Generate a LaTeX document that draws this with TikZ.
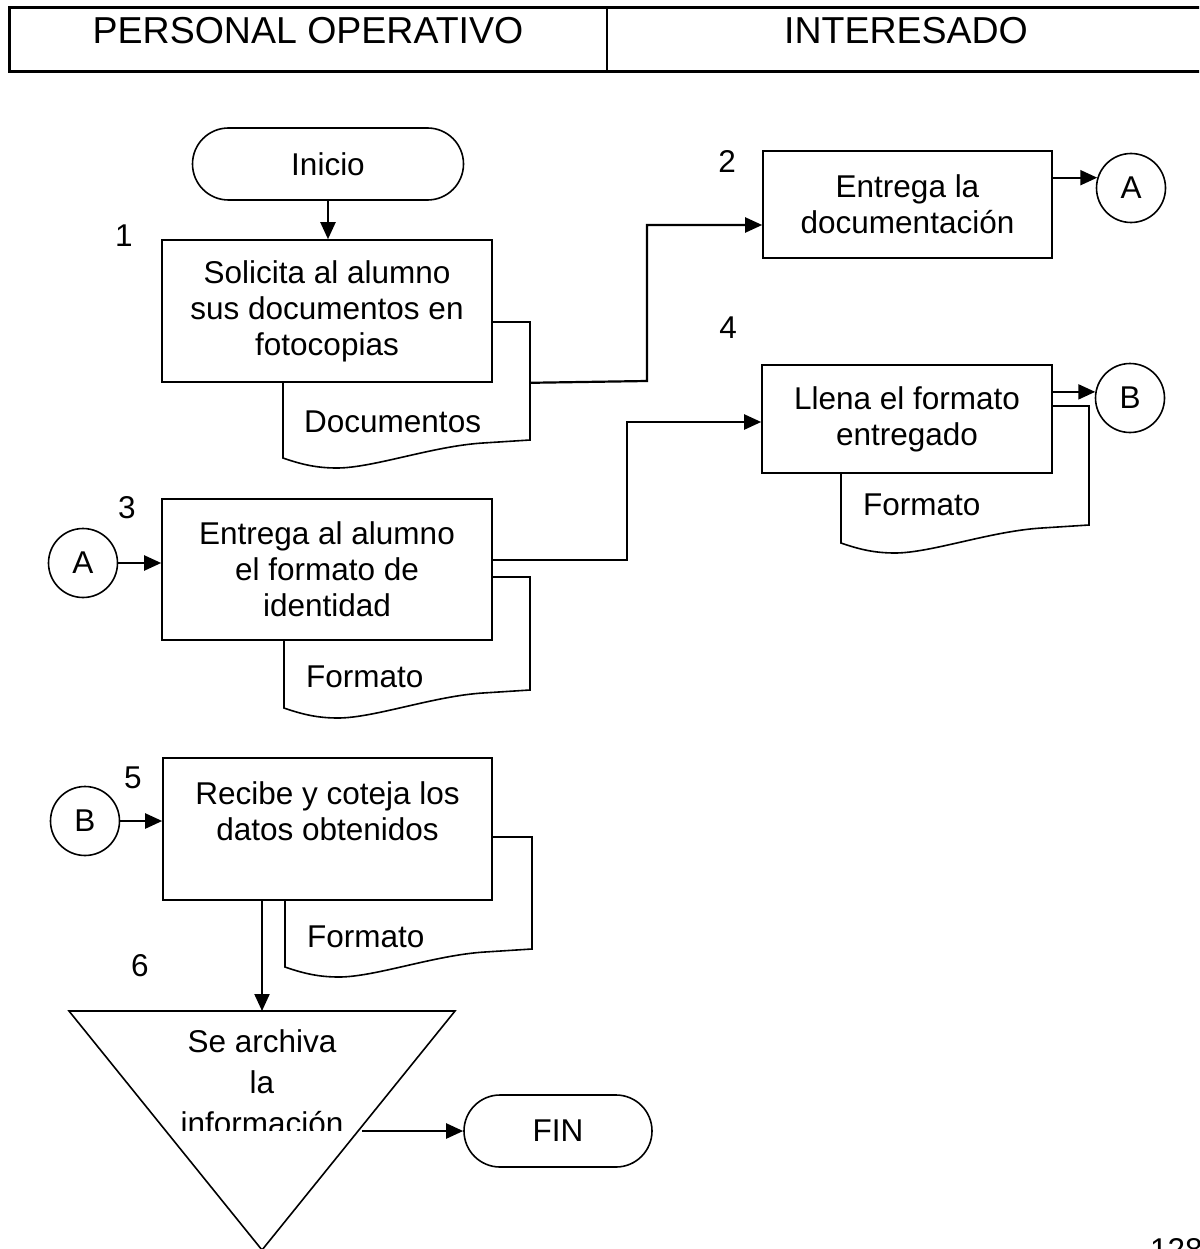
\documentclass[tikz,border=0pt]{standalone}
\usepackage{fontspec}
\setmainfont{Liberation Sans}
\usetikzlibrary{arrows.meta,shapes.misc}

% document symbol: left x, right x, top y, bottom-left y (wavy bottom edge)
\newcommand{\docpath}[4]{%
  \draw[docshape] (#1,#3) -- (#2,#3) -- (#2,#4-18) -- (#2-47,#4-15)
    .. controls (#1+150,#4-12) and (#1+90,#4+10) .. (#1+54,#4+10)
    .. controls (#1+35,#4+10) and (#1+20,#4+7) .. (#1,#4) -- cycle;}

\begin{document}
\begin{tikzpicture}[x=1pt,y=-1pt,
  every node/.style={font=\fontsize{31.5}{36}\selectfont, inner sep=0pt},
  box/.style={draw, line width=1.6pt, fill=white, align=center},
  term/.style={draw, line width=1.6pt, rounded rectangle, fill=white, minimum height=72pt},
  conn/.style={draw, circle, line width=1.6pt, minimum size=69pt, fill=white},
  flow/.style={line width=2.2pt, -{Triangle[length=17pt,width=15pt]}},
  docshape/.style={draw, line width=1.6pt, fill=white, line join=miter},
  num/.style={anchor=base},
  hdr/.style={anchor=base, font=\fontsize{37.5}{42}\selectfont},
  doclbl/.style={anchor=west},
]
\clip (0,0) rectangle (1199,1249);
\useasboundingbox (0,0) rectangle (1199,1249);

% header with the two lanes
\draw[line width=3pt, line join=miter] (1215,8) -- (9,8) -- (9,72) -- (1215,72);
\draw[line width=1.6pt] (607,8) -- (607,72);
\node[hdr] (h1) at (308,44) {PERSONAL OPERATIVO};
\node[hdr] (h2) at (906,44) {INTERESADO};

% documents (behind the process boxes)
\docpath{283}{530}{322}{458}
\docpath{284}{530}{577}{708}
\docpath{285}{532}{837}{967}
\docpath{841}{1089}{406}{543}
\coordinate (d1r) at (530,322);
\node[doclbl] (dl1) at (304,422) {Documentos};
\node[doclbl] (dl3) at (306,677) {Formato};
\node[doclbl] (dl5) at (307,937) {Formato};
\node[doclbl] (dl4) at (863,505) {Formato};

% start / end
\node[term, minimum width=271pt] (ini) at (328,164) {Inicio};
\node[term, minimum width=188pt] (fin) at (558,1131) {FIN};

% process boxes
\node[box, minimum width=330pt, minimum height=142pt] (b1) at (327,311)
  {Solicita al alumno\\sus documentos en\\fotocopias};
\node[box, minimum width=289pt, minimum height=107pt] (b2) at (907.5,204.5)
  {Entrega la\\documentación};
\node[box, minimum width=330pt, minimum height=141pt] (b3) at (327,569.5)
  {Entrega al alumno\\el formato de\\identidad};
\node[box, minimum width=290pt, minimum height=108pt] (b4) at (907,419)
  {Llena el formato\\entregado};
\node[box, minimum width=329pt, minimum height=142pt] (b5) at (327.5,829)
  {Recibe y coteja los\\datos obtenidos\\\mbox{}};

% off-page connectors
\node[conn] (A1) at (1131,188) {A};
\node[conn] (B1) at (1130,398) {B};
\node[conn] (A2) at (83,563) {A};
\node[conn] (B2) at (85,821) {B};

% archive (inverted triangle)
\coordinate (tritop) at (262,1011);
\coordinate (triout) at (362,1131);
\draw[line width=1.6pt, line join=miter] (69,1011) -- (455,1011) -- (262,1250) -- cycle;
\begin{scope}
  \clip (0,990) rectangle (1199,1130);
  \node[align=center, font=\fontsize{31.5}{41}\selectfont] (t6) at (262,1082.5)
    {Se archiva\\la\\información};
\end{scope}

% step numbers
\node[num] (n1) at (124,247) {1};
\node[num] (n2) at (727,173) {2};
\node[num] (n3) at (127,518) {3};
\node[num] (n4) at (728,338) {4};
\node[num] (n5) at (133,788) {5};
\node[num] (n6) at (140,976) {6};
\node[anchor=base west] (pg) at (1150,1260) {128};

% flow lines
\coordinate (k1) at (647,381);
\coordinate (k2) at (647,225);
\coordinate (k3) at (627,560);
\coordinate (k4) at (627,422);
\draw[flow] (ini.south) -- (ini.south |- b1.north);
\draw[flow] (b1.south -| d1r) -- (k1) -- (k2) -- (b2.west |- k2);
\draw[flow] (b2.east |- A1.163) -- (A1.163);
\draw[flow] (A2.east) -- (A2.east -| b3.west);
\draw[flow] (b3.east |- k3) -- (k3) -- (k4) -- (b4.west |- k4);
\draw[flow] (b4.east |- B1.170) -- (B1.170);
\draw[flow] (B2.east) -- (B2.east -| b5.west);
\draw[flow] (b5.south -| tritop) -- (tritop);
\draw[flow] (triout) -- (fin.west);
\end{tikzpicture}
\end{document}
